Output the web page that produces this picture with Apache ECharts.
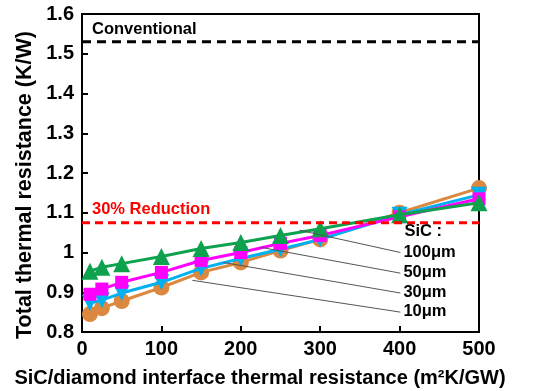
<!DOCTYPE html>
<html><head><meta charset="utf-8">
<script src="https://cdn.jsdelivr.net/npm/echarts@6/dist/echarts.min.js"></script>
<style>html,body{margin:0;padding:0;background:#fff}#c{width:546px;height:391px}</style>
</head><body><div id="c"></div>
<script>
const xValues = [10, 25, 50, 100, 150, 200, 250, 300, 400, 500];
const sic10  = [0.845, 0.860, 0.878, 0.912, 0.950, 0.975, 1.005, 1.033, 1.100, 1.162];
const sic30  = [0.873, 0.880, 0.898, 0.925, 0.960, 0.985, 1.008, 1.033, 1.095, 1.145];
const sic50  = [0.895, 0.908, 0.925, 0.950, 0.980, 1.000, 1.023, 1.043, 1.090, 1.135];
const sic100 = [0.953, 0.963, 0.972, 0.990, 1.010, 1.025, 1.043, 1.060, 1.095, 1.125];
const conventional = 1.53;
const reduction30 = 1.075;
const yTicks = [0.8, 0.9, 1.0, 1.1, 1.2, 1.3, 1.4, 1.5, 1.6];
const xTicks = [0, 100, 200, 300, 400, 500];
const seriesNames = ['10μm', '30μm', '50μm', '100μm'];
// leader lines: [from point on curve, to label]
const leaders = [
  {name: '100μm', from: [274, 1.056], to: [401, 1.000]},
  {name: '50μm',  from: [225, 1.013], to: [401, 0.948]},
  {name: '30μm',  from: [178, 0.975], to: [401, 0.898]},
  {name: '10μm',  from: [139, 0.930], to: [401, 0.850]}
];

const FONT = 'Liberation Sans, Arial, sans-serif';
const chart = echarts.init(document.getElementById('c'));
function pairs(arr){ return xValues.map((x,i)=>[x, arr[i]]); }

const lineW = 3;
const series = [
  {name: seriesNames[0], type:'line', data: pairs(sic10), symbol:'circle', symbolSize:16,
   itemStyle:{color:'#DB8840'}, lineStyle:{color:'#DB8840', width:lineW}, z:2},
  {name: seriesNames[1], type:'line', data: pairs(sic30), symbol:'triangle', symbolRotate:180, symbolSize:16,
   itemStyle:{color:'#00B0F0'}, lineStyle:{color:'#00B0F0', width:lineW}, z:3},
  {name: seriesNames[2], type:'line', data: pairs(sic50), symbol:'rect', symbolSize:13,
   itemStyle:{color:'#FF00FF'}, lineStyle:{color:'#FF00FF', width:lineW}, z:4},
  {name: seriesNames[3], type:'line', data: pairs(sic100), symbol:'triangle', symbolSize:17,
   itemStyle:{color:'#0FA24E'}, lineStyle:{color:'#0FA24E', width:lineW}, z:5},
  {type:'line', data:[[0, conventional],[500, conventional]], symbol:'none', silent:true,
   lineStyle:{color:'#000', width:3, type:[9,6]}, z:1},
  {type:'line', data:[[0, reduction30],[500, reduction30]], symbol:'none', silent:true,
   lineStyle:{color:'#FF0000', width:3, type:[8,5]}, z:6}
];
leaders.forEach(l => series.push({type:'line', data:[l.from, l.to], symbol:'none', silent:true,
  lineStyle:{color:'#555', width:1}, z:7}));

chart.setOption({
  animation:false,
  backgroundColor:'#fff',
  grid:{left:82, right:67, top:14, bottom:59, show:true, borderColor:'#000', borderWidth:2, backgroundColor:'transparent'},
  xAxis:{type:'value', min:0, max:500, interval:100,
    axisLine:{show:true, lineStyle:{color:'#000', width:2}},
    axisTick:{show:true, inside:true, length:6, lineStyle:{color:'#000', width:2}},
    axisLabel:{color:'#000', fontWeight:'bold', fontSize:20, fontFamily:FONT, margin:7},
    splitLine:{show:false}},
  yAxis:{type:'value', min:0.8, max:1.6, interval:0.1,
    axisLine:{show:true, lineStyle:{color:'#000', width:2}},
    axisTick:{show:true, inside:true, length:6, lineStyle:{color:'#000', width:2}},
    axisLabel:{color:'#000', fontWeight:'bold', fontSize:20, fontFamily:FONT, margin:8,
      formatter: v => String(Math.round(v*10)/10)},
    splitLine:{show:false}},
  series: series
});

function px(x,y){ return chart.convertToPixel({gridIndex:0}, [x,y]); }
const g = [];
const pConv = px(0, conventional);
g.push({type:'text', left: pConv[0]+10, top: pConv[1]-21, style:{text:'Conventional', font:'bold 16.5px '+FONT, fill:'#000'}});
const pRed = px(0, reduction30);
g.push({type:'text', left: pRed[0]+10, top: pRed[1]-22, style:{text:'30% Reduction', font:'bold 16.5px '+FONT, fill:'#FF0000'}});
const pSiC = px(401, 1.0);
g.push({type:'text', left: pSiC[0]+4, top: pSiC[1]-30, style:{text:'SiC :', font:'bold 16.5px '+FONT, fill:'#000'}});
leaders.forEach(l => {
  const p = px(l.to[0], l.to[1]);
  g.push({type:'text', left: p[0]+3, top: p[1]-9, style:{text:l.name, font:'bold 16.5px '+FONT, fill:'#000'}});
});
g.push({type:'text', x: 260, y: 378, style:{text:'SiC/diamond interface thermal resistance (m²K/GW)', font:'bold 20px '+FONT, fill:'#000', align:'center', verticalAlign:'middle'}});
g.push({type:'text', x: 25, y: 185, rotation: Math.PI/2, style:{text:'Total thermal resistance (K/W)', font:'bold 21.5px '+FONT, fill:'#000', align:'center', verticalAlign:'middle'}});
chart.setOption({graphic: g});
</script></body></html>
